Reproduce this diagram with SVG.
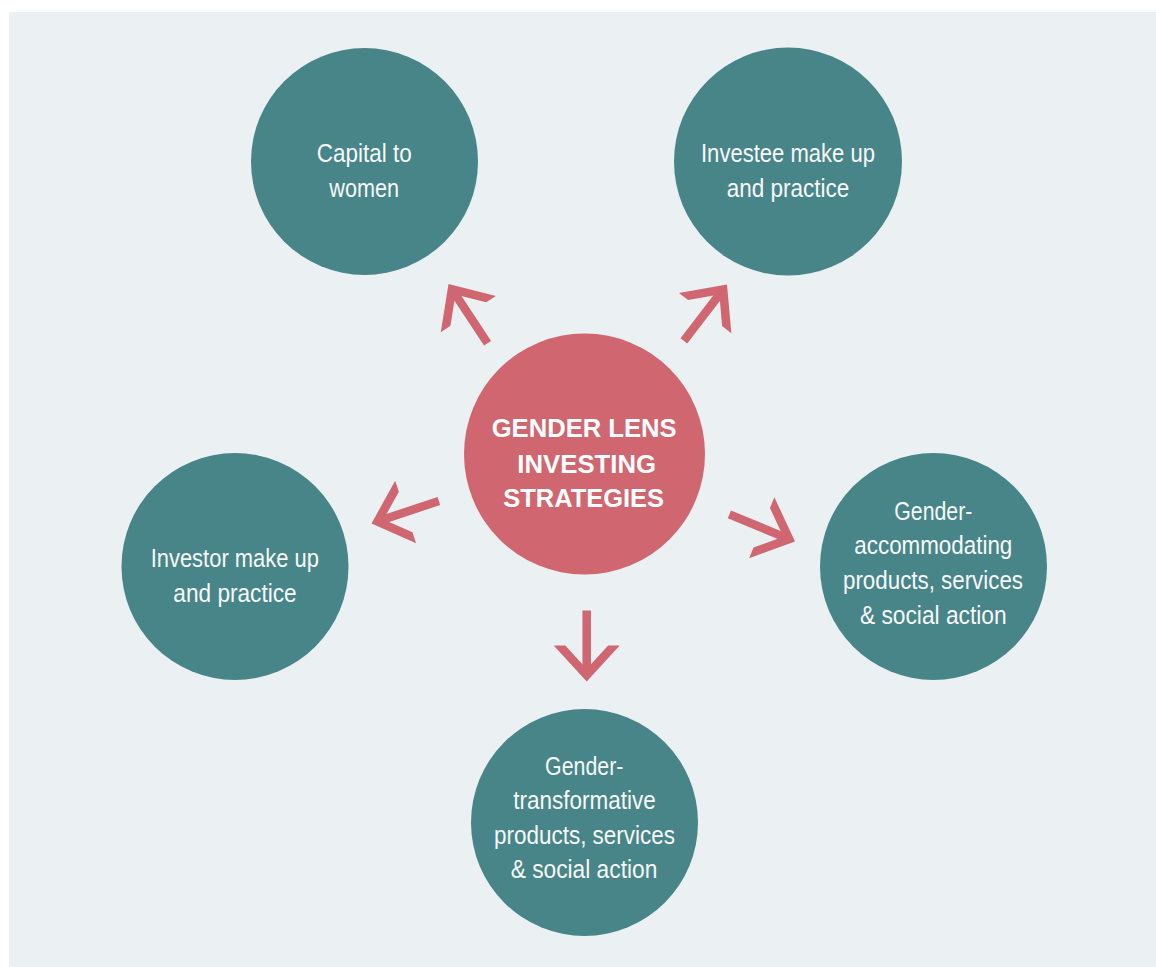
<svg xmlns="http://www.w3.org/2000/svg" xmlns:xlink="http://www.w3.org/1999/xlink" width="1156" height="967" viewBox="0 0 1156 967">
  <style>
    .bg { fill: #ebf0f3; }
    .teal { fill: #478589; }
    .pink { fill: #d0666f; }
    .lbl { font-family: "Liberation Sans", Arial, sans-serif; font-size: 25px; fill: #f7f9f9; text-anchor: middle; }
    .ctr { font-family: "Liberation Sans", Arial, sans-serif; font-size: 25px; font-weight: bold; fill: #ffffff; text-anchor: middle; }
  </style>
  <defs>
    <g id="arr" class="pink">
      <rect x="-4.25" y="-71" width="8.5" height="64"/>
      <polygon points="0,0 -33,-36 -21.4,-36 0,-12.6 21.4,-36 33,-36"/>
    </g>
  </defs>
  <rect class="bg" x="9" y="12" width="1147" height="955"/>

  <g id="connectors">
    <use xlink:href="#arr" href="#arr" transform="translate(448.5,284) rotate(146.6)"/>
    <use xlink:href="#arr" href="#arr" transform="translate(727,284.5) rotate(-142.6)"/>
    <use xlink:href="#arr" href="#arr" transform="translate(371.5,523.5) rotate(71.5)"/>
    <use xlink:href="#arr" href="#arr" transform="translate(795,541.5) rotate(-67.5)"/>
    <use xlink:href="#arr" href="#arr" transform="translate(586.7,681.5)"/>
  </g>

  <g id="center">
    <circle class="pink" cx="584.5" cy="454" r="120.5"/>
    <text class="ctr" x="584.2" y="437.3" textLength="185" lengthAdjust="spacingAndGlyphs">GENDER LENS</text>
    <text class="ctr" x="586.7" y="472.7" textLength="138.7" lengthAdjust="spacingAndGlyphs">INVESTING</text>
    <text class="ctr" x="583.7" y="506.7" textLength="160.7" lengthAdjust="spacingAndGlyphs">STRATEGIES</text>
  </g>

  <g id="capital">
    <circle class="teal" cx="364.5" cy="161.5" r="113.5"/>
    <text class="lbl" x="364.2" y="162.3" textLength="95" lengthAdjust="spacingAndGlyphs">Capital to</text>
    <text class="lbl" x="364.2" y="196.7" textLength="69.7" lengthAdjust="spacingAndGlyphs">women</text>
  </g>

  <g id="investee">
    <circle class="teal" cx="788" cy="161.5" r="114"/>
    <text class="lbl" x="788" y="162.3" textLength="174" lengthAdjust="spacingAndGlyphs">Investee make up</text>
    <text class="lbl" x="788" y="196.7" textLength="122.7" lengthAdjust="spacingAndGlyphs">and practice</text>
  </g>

  <g id="investor">
    <circle class="teal" cx="235" cy="566.5" r="113.5"/>
    <text class="lbl" x="234.8" y="567.3" textLength="168.3" lengthAdjust="spacingAndGlyphs">Investor make up</text>
    <text class="lbl" x="235" y="601.7" textLength="123.3" lengthAdjust="spacingAndGlyphs">and practice</text>
  </g>

  <g id="accommodating">
    <circle class="teal" cx="933.5" cy="566.5" r="113.5"/>
    <text class="lbl" x="933.3" y="520" textLength="78" lengthAdjust="spacingAndGlyphs">Gender-</text>
    <text class="lbl" x="933.3" y="554.3" textLength="158" lengthAdjust="spacingAndGlyphs">accommodating</text>
    <text class="lbl" x="933" y="589.3" textLength="180" lengthAdjust="spacingAndGlyphs">products, services</text>
    <text class="lbl" x="933.3" y="624" textLength="146.7" lengthAdjust="spacingAndGlyphs">&amp; social action</text>
  </g>

  <g id="transformative">
    <circle class="teal" cx="584.5" cy="822.5" r="113.5"/>
    <text class="lbl" x="584.2" y="775" textLength="78.3" lengthAdjust="spacingAndGlyphs">Gender-</text>
    <text class="lbl" x="584.5" y="809" textLength="142.3" lengthAdjust="spacingAndGlyphs">transformative</text>
    <text class="lbl" x="584.5" y="844" textLength="181" lengthAdjust="spacingAndGlyphs">products, services</text>
    <text class="lbl" x="584" y="878.3" textLength="146.7" lengthAdjust="spacingAndGlyphs">&amp; social action</text>
  </g>
</svg>
